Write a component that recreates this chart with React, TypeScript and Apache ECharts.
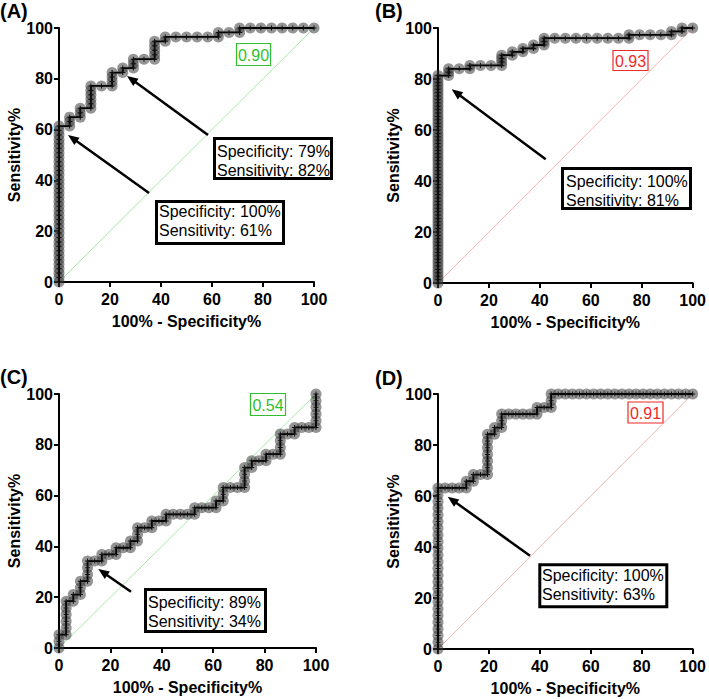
import React, { useEffect, useRef } from "react";
import * as echarts from "echarts";

const FONT = '"Liberation Sans", Arial, Helvetica, sans-serif';

// Axis ticks (0..100 step 20)
const tickInterval = 20;
const xAxisName = "100% - Specificity%";
const yAxisName = "Sensitivity%";

// ROC points: [100% - Specificity%, Sensitivity%]
const rocA: [number, number][] = [
  [0, 0], [0, 1.75], [0, 3.51], [0, 5.26], [0, 7.02], [0, 8.77], [0, 10.53], [0, 12.28], [0, 14.04], [0, 15.79],
  [0, 17.54], [0, 19.3], [0, 21.05], [0, 22.81], [0, 24.56], [0, 26.32], [0, 28.07], [0, 29.82], [0, 31.58], [0, 33.33],
  [0, 35.09], [0, 36.84], [0, 38.6], [0, 40.35], [0, 42.11], [0, 43.86], [0, 45.61], [0, 47.37], [0, 49.12], [0, 50.88],
  [0, 52.63], [0, 54.39], [0, 56.14], [0, 57.89], [0, 59.65], [0, 61.4],
  [4.17, 61.4], [4.17, 63.16], [4.17, 64.91],
  [8.33, 64.91], [8.33, 66.67], [8.33, 68.42],
  [12.5, 68.42], [12.5, 70.18], [12.5, 71.93], [12.5, 73.68], [12.5, 75.44], [12.5, 77.19],
  [16.67, 77.19],
  [20.83, 77.19], [20.83, 78.95], [20.83, 80.7], [20.83, 82.46],
  [25, 82.46], [25, 84.21],
  [29.17, 84.21], [29.17, 85.96], [29.17, 87.72],
  [33.33, 87.72],
  [37.5, 87.72], [37.5, 89.47], [37.5, 91.23], [37.5, 92.98], [37.5, 94.74],
  [41.67, 94.74], [41.67, 96.49],
  [45.83, 96.49], [50, 96.49], [54.17, 96.49], [58.33, 96.49],
  [62.5, 96.49], [62.5, 98.25],
  [66.67, 98.25],
  [70.83, 98.25], [70.83, 100],
  [75, 100], [79.17, 100], [83.33, 100], [87.5, 100], [91.67, 100], [95.83, 100], [100, 100],
];

const rocB: [number, number][] = [
  [0, 0], [0, 1.33], [0, 2.67], [0, 4], [0, 5.33], [0, 6.67], [0, 8], [0, 9.33], [0, 10.67], [0, 12],
  [0, 13.33], [0, 14.67], [0, 16], [0, 17.33], [0, 18.67], [0, 20], [0, 21.33], [0, 22.67], [0, 24], [0, 25.33],
  [0, 26.67], [0, 28], [0, 29.33], [0, 30.67], [0, 32], [0, 33.33], [0, 34.67], [0, 36], [0, 37.33], [0, 38.67],
  [0, 40], [0, 41.33], [0, 42.67], [0, 44], [0, 45.33], [0, 46.67], [0, 48], [0, 49.33], [0, 50.67], [0, 52],
  [0, 53.33], [0, 54.67], [0, 56], [0, 57.33], [0, 58.67], [0, 60], [0, 61.33], [0, 62.67], [0, 64], [0, 65.33],
  [0, 66.67], [0, 68], [0, 69.33], [0, 70.67], [0, 72], [0, 73.33], [0, 74.67], [0, 76], [0, 77.33], [0, 78.67],
  [0, 80], [0, 81.33],
  [4.17, 81.33], [4.17, 82.67], [4.17, 84],
  [8.33, 84],
  [12.5, 84], [12.5, 85.33],
  [16.67, 85.33], [20.83, 85.33],
  [25, 85.33], [25, 86.67], [25, 88], [25, 89.33],
  [29.17, 89.33], [29.17, 90.67],
  [33.33, 90.67], [33.33, 92],
  [37.5, 92], [37.5, 93.33],
  [41.67, 93.33], [41.67, 94.67], [41.67, 96],
  [45.83, 96], [50, 96], [54.17, 96], [58.33, 96], [62.5, 96], [66.67, 96], [70.83, 96],
  [75, 96], [75, 97.33],
  [79.17, 97.33], [83.33, 97.33], [87.5, 97.33],
  [91.67, 97.33], [91.67, 98.67],
  [95.83, 98.67], [95.83, 100],
  [100, 100],
];

const rocC: [number, number][] = [
  [0, 0], [0, 2.63], [0, 5.26],
  [2.78, 5.26], [2.78, 7.89], [2.78, 10.53], [2.78, 13.16], [2.78, 15.79], [2.78, 18.42],
  [5.56, 18.42], [5.56, 21.05],
  [8.33, 21.05], [8.33, 23.68], [8.33, 26.32],
  [11.11, 26.32], [11.11, 28.95], [11.11, 31.58], [11.11, 34.21],
  [13.89, 34.21],
  [16.67, 34.21], [16.67, 36.84],
  [19.44, 36.84],
  [22.22, 36.84], [22.22, 39.47],
  [25, 39.47],
  [27.78, 39.47], [27.78, 42.11],
  [30.56, 42.11], [30.56, 44.74], [30.56, 47.37],
  [33.33, 47.37],
  [36.11, 47.37], [36.11, 50],
  [38.89, 50],
  [41.67, 50], [41.67, 52.63],
  [44.44, 52.63], [47.22, 52.63], [50, 52.63],
  [52.78, 52.63], [52.78, 55.26],
  [55.56, 55.26], [58.33, 55.26],
  [61.11, 55.26], [61.11, 57.89],
  [63.89, 57.89], [63.89, 60.53], [63.89, 63.16],
  [66.67, 63.16], [69.44, 63.16],
  [72.22, 63.16], [72.22, 65.79], [72.22, 68.42], [72.22, 71.05],
  [75, 71.05], [75, 73.68],
  [77.78, 73.68],
  [80.56, 73.68], [80.56, 76.32],
  [83.33, 76.32],
  [86.11, 76.32], [86.11, 78.95], [86.11, 81.58], [86.11, 84.21],
  [88.89, 84.21],
  [91.67, 84.21], [91.67, 86.84],
  [94.44, 86.84], [97.22, 86.84],
  [100, 86.84], [100, 89.47], [100, 92.11], [100, 94.74], [100, 97.37], [100, 100],
];

const rocD: [number, number][] = [
  [0, 0], [0, 2.63], [0, 5.26], [0, 7.89], [0, 10.53], [0, 13.16], [0, 15.79], [0, 18.42], [0, 21.05], [0, 23.68],
  [0, 26.32], [0, 28.95], [0, 31.58], [0, 34.21], [0, 36.84], [0, 39.47], [0, 42.11], [0, 44.74], [0, 47.37], [0, 50],
  [0, 52.63], [0, 55.26], [0, 57.89], [0, 60.53], [0, 63.16],
  [2.78, 63.16], [5.56, 63.16], [8.33, 63.16],
  [11.11, 63.16], [11.11, 65.79],
  [13.89, 65.79], [13.89, 68.42],
  [16.67, 68.42],
  [19.44, 68.42], [19.44, 71.05], [19.44, 73.68], [19.44, 76.32], [19.44, 78.95], [19.44, 81.58], [19.44, 84.21],
  [22.22, 84.21], [22.22, 86.84],
  [25, 86.84], [25, 89.47], [25, 92.11],
  [27.78, 92.11], [30.56, 92.11], [33.33, 92.11], [36.11, 92.11],
  [38.89, 92.11], [38.89, 94.74],
  [41.67, 94.74],
  [44.44, 94.74], [44.44, 97.37], [44.44, 100],
  [47.22, 100], [50, 100], [52.78, 100], [55.56, 100], [58.33, 100], [61.11, 100], [63.89, 100], [66.67, 100],
  [69.44, 100], [72.22, 100], [75, 100], [77.78, 100], [80.56, 100], [83.33, 100], [86.11, 100], [88.89, 100],
  [91.67, 100], [94.44, 100], [97.22, 100], [100, 100],
];

const diagonal: [number, number][] = [[0, 0], [100, 100]];

const panelLetters = ["(A)", "(B)", "(C)", "(D)"];
const aucValues = ["0.90", "0.93", "0.54", "0.91"];
const cutoffTexts = [
  ["Specificity: 79%", "Sensitivity: 82%"],
  ["Specificity: 100%", "Sensitivity: 61%"],
  ["Specificity: 100%", "Sensitivity: 81%"],
  ["Specificity: 89%", "Sensitivity: 34%"],
  ["Specificity: 100%", "Sensitivity: 63%"],
];

// ---- layout / styling (not data) ----
const GREEN = "#2fbf2f";
const RED = "#ee2a2a";
const DIAG_GREEN = "#a9e8a9";
const DIAG_RED = "#f6b3b3";

const panels = [
  { data: rocA, grid: { left: 59, top: 28, width: 255, height: 254 }, diag: DIAG_GREEN, aucColor: GREEN },
  { data: rocB, grid: { left: 438, top: 28, width: 257, height: 255 }, diag: DIAG_RED, aucColor: RED },
  { data: rocC, grid: { left: 59, top: 394, width: 257, height: 254 }, diag: DIAG_GREEN, aucColor: GREEN },
  { data: rocD, grid: { left: 438, top: 394, width: 257, height: 255 }, diag: DIAG_RED, aucColor: RED },
];

const letterPos = [
  { x: 0, y: 11 },
  { x: 375, y: 11 },
  { x: 0, y: 377 },
  { x: 375, y: 378 },
];

const aucBoxes = [
  { x: 236.5, y: 43.5, w: 34, h: 22 },
  { x: 613, y: 50.5, w: 35, h: 20 },
  { x: 250.5, y: 393.5, w: 35, h: 22 },
  { x: 628, y: 402, w: 35, h: 21 },
];

// cutoff boxes: rect (stroke-centred) + text position
const cutoffBoxes = [
  { x: 214.5, y: 138.5, w: 117, h: 40, tx: 217, ty: 161 },
  { x: 156.5, y: 201.5, w: 127, h: 42, tx: 159, ty: 221 },
  { x: 562.5, y: 168.5, w: 128, h: 40, tx: 566, ty: 191 },
  { x: 145.5, y: 589.5, w: 120, h: 42, tx: 148, ty: 612 },
  { x: 539.8, y: 564.8, w: 127, h: 42, tx: 542, ty: 585 },
];

const arrows = [
  [208, 135, 127, 76],
  [149, 193, 68, 135],
  [545.7, 159.3, 451.7, 89.3],
  [131, 591.7, 98.3, 569],
  [530, 555.7, 447.7, 496.7],
];

const PLUS = "path://M2,0H3V2H5V3H3V5H2V3H0V2H2Z";

function arrowEls(x1: number, y1: number, x2: number, y2: number) {
  const dx = x2 - x1;
  const dy = y2 - y1;
  const L = Math.hypot(dx, dy);
  const ux = dx / L;
  const uy = dy / L;
  const hl = 11;
  const hw = 4.5;
  const bx = x2 - ux * hl;
  const by = y2 - uy * hl;
  return [
    {
      type: "line",
      shape: { x1, y1, x2: bx + ux * 1.5, y2: by + uy * 1.5 },
      style: { stroke: "#000", lineWidth: 2.5 },
    },
    {
      type: "polygon",
      shape: {
        points: [
          [x2, y2],
          [bx - uy * hw, by + ux * hw],
          [bx + uy * hw, by - ux * hw],
        ],
      },
      style: { fill: "#000" },
    },
  ];
}

function buildOption() {
  const axisCommon = {
    type: "value",
    min: 0,
    max: 100,
    interval: tickInterval,
    nameLocation: "middle",
    nameTextStyle: { fontFamily: FONT, fontWeight: "bold", fontSize: 16, color: "#000" },
    axisLine: { show: true, onZero: false, lineStyle: { color: "#000", width: 2 } },
    axisTick: { show: true, length: 5, lineStyle: { color: "#000", width: 2 } },
    splitLine: { show: false },
  };

  const xAxis = panels.map((_, i) => ({
    ...axisCommon,
    gridIndex: i,
    name: xAxisName,
    nameGap: 31,
    axisLabel: { margin: 9, fontFamily: FONT, fontWeight: "bold", fontSize: 16, color: "#000" },
  }));
  const yAxis = panels.map((_, i) => ({
    ...axisCommon,
    gridIndex: i,
    name: yAxisName,
    nameGap: 37,
    axisLabel: { margin: 6, fontFamily: FONT, fontWeight: "bold", fontSize: 16, color: "#000" },
  }));

  const series: any[] = [];
  panels.forEach((p, i) => {
    series.push({
      type: "line",
      xAxisIndex: i,
      yAxisIndex: i,
      data: diagonal,
      symbol: "none",
      silent: true,
      lineStyle: { color: p.diag, width: 1 },
      z: 1,
    });
    series.push({
      type: "scatter",
      xAxisIndex: i,
      yAxisIndex: i,
      data: p.data,
      symbol: "circle",
      symbolSize: 11,
      clip: false,
      silent: true,
      itemStyle: { color: "rgba(60,60,60,0.68)" },
      z: 2,
    });
    series.push({
      type: "line",
      xAxisIndex: i,
      yAxisIndex: i,
      data: p.data,
      symbol: PLUS,
      symbolSize: 5,
      showSymbol: true,
      clip: false,
      silent: true,
      itemStyle: { color: "#111" },
      lineStyle: { color: "#000", width: 1.8 },
      z: 3,
    });
  });

  const graphic: any[] = [];
  panelLetters.forEach((t, i) => {
    graphic.push({
      type: "text",
      x: letterPos[i].x,
      y: letterPos[i].y,
      style: {
        text: t,
        font: `bold 20px ${FONT}`,
        fill: "#000",
        align: "left",
        verticalAlign: "middle",
      },
      z: 10,
    });
  });
  aucValues.forEach((t, i) => {
    const b = aucBoxes[i];
    const c = panels[i].aucColor;
    graphic.push({
      type: "rect",
      shape: { x: b.x, y: b.y, width: b.w, height: b.h },
      style: { fill: "#fff", stroke: c, lineWidth: 1.2 },
      z: 10,
    });
    graphic.push({
      type: "text",
      x: b.x + b.w / 2,
      y: b.y + b.h / 2 + 0.5,
      style: {
        text: t,
        font: `16px ${FONT}`,
        fill: c,
        align: "center",
        verticalAlign: "middle",
      },
      z: 11,
    });
  });
  arrows.forEach((a) => {
    arrowEls(a[0], a[1], a[2], a[3]).forEach((el) => graphic.push({ ...el, z: 10 }));
  });
  cutoffTexts.forEach((lines, i) => {
    const b = cutoffBoxes[i];
    graphic.push({
      type: "rect",
      shape: { x: b.x, y: b.y, width: b.w, height: b.h },
      style: { fill: "#fff", stroke: "#000", lineWidth: 3 },
      z: 12,
    });
    graphic.push({
      type: "text",
      x: b.tx,
      y: b.ty,
      style: {
        text: lines.join("\n"),
        font: `16px ${FONT}`,
        lineHeight: 18.5,
        fill: "#000",
        align: "left",
        verticalAlign: "middle",
      },
      z: 13,
    });
  });

  return {
    animation: false,
    backgroundColor: "#fff",
    grid: panels.map((p) => ({ ...p.grid, containLabel: false })),
    xAxis,
    yAxis,
    series,
    graphic,
  };
}

export default function App() {
  const ref = useRef<HTMLDivElement>(null);
  useEffect(() => {
    if (!ref.current) return;
    const chart = echarts.init(ref.current, undefined, { renderer: "svg" });
    chart.setOption(buildOption() as any);
    return () => chart.dispose();
  }, []);
  return (
    <div
      ref={ref}
      style={{ position: "fixed", left: 0, top: 0, width: 709, height: 699, background: "#fff" }}
    />
  );
}
